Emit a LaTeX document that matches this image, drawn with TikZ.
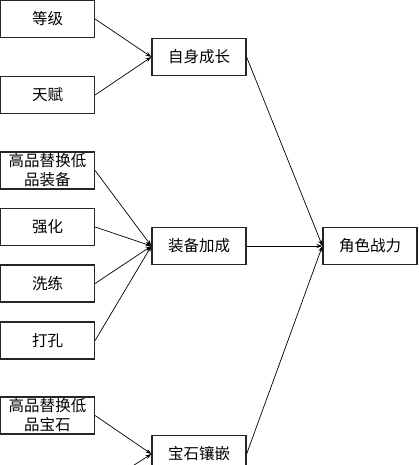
\documentclass[tikz,border=0pt]{standalone}
\usepackage{fontspec}
\newfontfamily\cjk{Noto Sans CJK SC}
\usetikzlibrary{arrows.meta}
\begin{document}
\begin{tikzpicture}[x=1pt,y=-1pt,
  box/.style={draw=black!85, line width=1.2pt, minimum width=94pt, minimum height=37pt,
    inner sep=0pt, align=center, font=\cjk\fontsize{15.5}{19}\selectfont},
  arr/.style={-{Stealth[length=6pt,width=4pt]}, line width=0.7pt}]
\useasboundingbox (0,0) rectangle (418,465);
\begin{scope}
\clip (0,0) rectangle (418,465);
\fill[white] (0,0) rectangle (418,465);
\node[box] (a1) at (47.5,19) {等级};
\node[box] (a2) at (47.5,95) {天赋};
\node[box] (b1) at (199,57) {自身成长};
\node[box] (a3) at (47.5,170.5) {高品替换低\\品装备};
\node[box] (a4) at (47.5,227) {强化};
\node[box] (a5) at (47.5,283.5) {洗练};
\node[box] (a6) at (47.5,340.5) {打孔};
\node[box] (b2) at (199,246) {装备加成};
\node[box] (c) at (370,246) {角色战力};
\node[box] (a7) at (47.5,415.5) {高品替换低\\品宝石};
\node[box] (b3) at (199,454) {宝石镶嵌};
\coordinate (a8) at (95,490);
\draw[arr] (a1.east) -- (b1.west);
\draw[arr] (a2.east) -- (b1.west);
\draw[arr] (a3.east) -- (b2.west);
\draw[arr] (a4.east) -- (b2.west);
\draw[arr] (a5.east) -- (b2.west);
\draw[arr] (a6.east) -- (b2.west);
\draw[arr] (a7.east) -- (b3.west);
\draw[arr] (a8) -- (b3.west);
\draw[arr] (b1.east) -- (c.west);
\draw[arr] (b2.east) -- (c.west);
\draw[arr] (b3.east) -- (c.west);
\end{scope}
\end{tikzpicture}
\end{document}
